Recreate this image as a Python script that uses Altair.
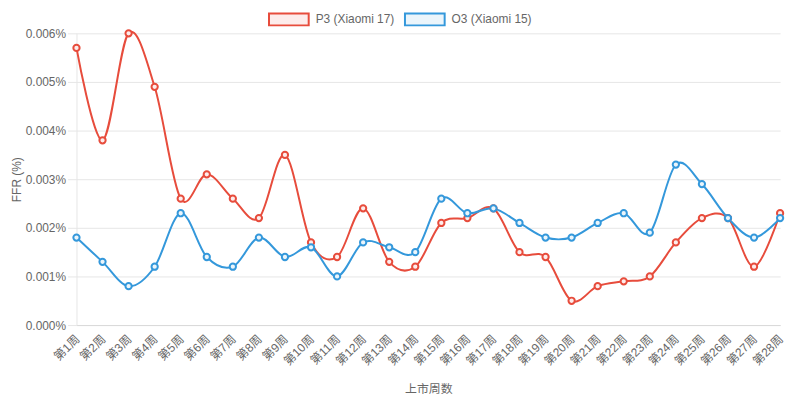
import altair as alt
import pandas as pd

weeks = ["第1周", "第2周", "第3周", "第4周", "第5周", "第6周", "第7周", "第8周", "第9周", "第10周",
         "第11周", "第12周", "第13周", "第14周", "第15周", "第16周", "第17周", "第18周", "第19周", "第20周",
         "第21周", "第22周", "第23周", "第24周", "第25周", "第26周", "第27周", "第28周"]
p3 = [0.0057, 0.0038, 0.0060, 0.0049, 0.0026, 0.0031, 0.0026, 0.0022, 0.0035, 0.0017,
      0.0014, 0.0024, 0.0013, 0.0012, 0.0021, 0.0022, 0.0024, 0.0015, 0.0014, 0.0005,
      0.0008, 0.0009, 0.0010, 0.0017, 0.0022, 0.0022, 0.0012, 0.0023]
o3 = [0.0018, 0.0013, 0.0008, 0.0012, 0.0023, 0.0014, 0.0012, 0.0018, 0.0014, 0.0016,
      0.0010, 0.0017, 0.0016, 0.0015, 0.0026, 0.0023, 0.0024, 0.0021, 0.0018, 0.0018,
      0.0021, 0.0023, 0.0019, 0.0033, 0.0029, 0.0022, 0.0018, 0.0022]
series_names = ["P3 (Xiaomi 17)", "O3 (Xiaomi 15)"]
y_ticks = [0, 0.001, 0.002, 0.003, 0.004, 0.005, 0.006]

strong = ["#e74c3c", "#3498db"]
light = ["#fdeceb", "#ebf5fb"]

rows = []
for name, vals in zip(series_names, [p3, o3]):
    for w, v in zip(weeks, vals):
        rows.append({"week": w, "series": name, "value": v})
df = pd.DataFrame(rows)

FONT = "Liberation Sans, Arial, Noto Sans CJK SC"
GRID = "#e6e6e6"
TXT = "#666666"

x = alt.X("week:N", sort=weeks, scale=alt.Scale(type="point", padding=0),
          axis=alt.Axis(title="上市周数", labelAngle=-45, ticks=False, grid=False,
                        domain=True, domainColor="#d9d9d9", labelPadding=8, labelOffset=-3,
                        titlePadding=17, labelFontSize=12, titleFontSize=12,
                        labelColor=TXT, titleColor=TXT, titleFontWeight="normal"))
y = alt.Y("value:Q", scale=alt.Scale(domain=[0, 0.006], nice=False),
          axis=alt.Axis(title="FFR (%)", values=y_ticks,
                        labelExpr="format(datum.value, '.3f') + '%'",
                        grid=True, gridColor=GRID, domain=True, domainColor=GRID,
                        ticks=True, tickSize=9, tickColor=GRID, labelPadding=2,
                        titlePadding=2, labelFontSize=12, titleFontSize=12,
                        labelColor=TXT, titleColor=TXT, titleFontWeight="normal"))

leg = alt.Legend(title=None, orient="none", legendX=193, legendY=-35, direction="horizontal",
                 symbolType="M-1,-0.3H1V0.3H-1Z", symbolSize=1600, symbolStrokeWidth=2,
                 labelFontSize=12, labelColor=TXT, labelOffset=6, columnPadding=6,
                 labelFont=FONT)

stroke_scale = alt.Scale(domain=series_names, range=strong)
fill_scale = alt.Scale(domain=series_names, range=light)

base = alt.Chart(df)
line = base.mark_line(interpolate="cardinal", tension=0, strokeWidth=2).encode(
    x=x, y=y,
    stroke=alt.Stroke("series:N", scale=stroke_scale, legend=leg),
    detail="series:N",
)
pts = base.mark_point(shape="circle", size=40, strokeWidth=2, opacity=1, fillOpacity=1).encode(
    x=x, y=y,
    stroke=alt.Stroke("series:N", scale=stroke_scale, legend=leg),
    fill=alt.Fill("series:N", scale=fill_scale, legend=leg),
)

chart = alt.layer(line, pts).properties(
    width=709, height=294, autosize="none",
    padding={"left": 69, "top": 24, "right": 12, "bottom": 75},
).configure(font=FONT).configure_view(stroke=None)

chart.save("out.html", embed_options={"renderer": "svg", "actions": False})
